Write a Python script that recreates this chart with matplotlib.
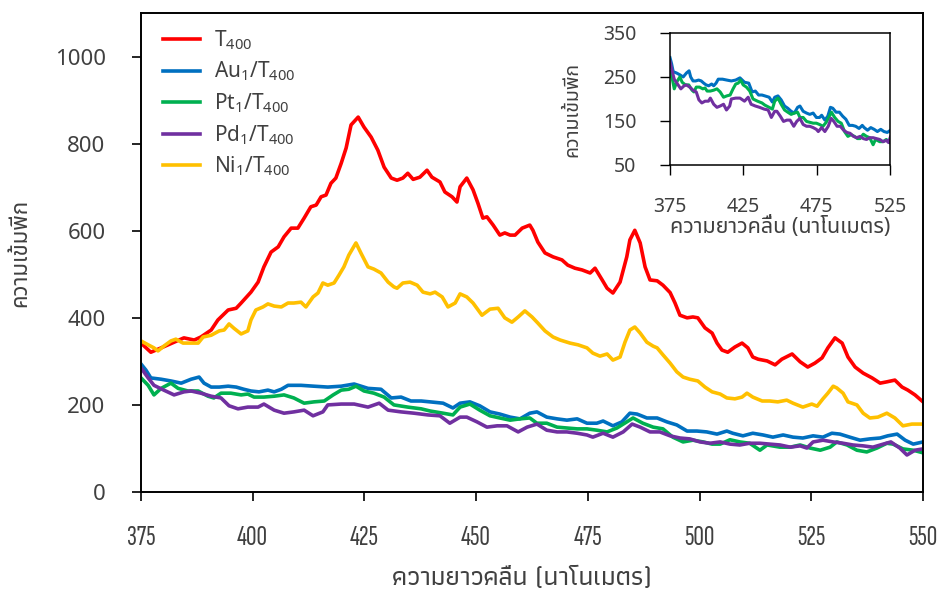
import matplotlib
matplotlib.use("Agg")
import matplotlib.pyplot as plt

# Photoluminescence spectra, T400 and single-atom loaded samples
red_wl = [375.0, 377.2, 379.5, 382.4, 384.6, 386.9, 388.4, 390.7, 392.2, 394.5, 396.3, 397.4,
          399.6, 401.2, 402.5, 404.1, 405.7, 407.0, 408.6, 410.1, 411.5, 413.0, 414.2, 415.3,
          416.4, 417.5, 418.6, 419.8, 420.9, 422.0, 423.6, 424.9, 426.5, 428.0, 429.4, 431.0,
          432.3, 433.6, 434.7, 435.9, 437.4, 439.0, 440.1, 441.9, 443.0, 444.6, 445.7, 446.4,
          447.9, 449.3, 450.4, 451.5, 452.4, 453.8, 455.3, 456.4, 457.6, 458.7, 460.3, 462.0,
          462.7, 463.8, 465.4, 467.2, 469.2, 470.5, 472.1, 473.7, 475.5, 476.6, 478.2, 479.3,
          480.6, 482.2, 483.7, 484.4, 485.5, 486.7, 487.8, 488.9, 490.5, 491.8, 493.4, 494.5,
          495.6, 497.2, 498.5, 499.6, 501.2, 502.8, 503.9, 505.0, 506.3, 507.9, 509.5, 510.8,
          511.9, 513.1, 515.1, 516.9, 518.4, 520.7, 522.5, 524.2, 525.8, 527.4, 528.7, 530.3,
          531.9, 533.2, 534.8, 536.6, 538.6, 540.4, 541.9, 543.7, 545.3, 546.6, 548.2, 550.0]
red_i = [342, 321, 331, 344, 354, 349, 356, 372, 395, 418, 422, 434,
         459, 482, 517, 551, 563, 586, 606, 606, 629, 655, 659, 678,
         682, 709, 721, 755, 790, 843, 861, 838, 815, 785, 746, 721,
         716, 721, 732, 718, 723, 739, 723, 712, 689, 678, 666, 701,
         721, 694, 663, 629, 632, 613, 590, 595, 590, 590, 606, 613,
         601, 574, 549, 540, 533, 521, 514, 510, 503, 514, 487, 468,
         457, 482, 540, 579, 601, 572, 517, 487, 485, 475, 458, 434,
         406, 400, 402, 400, 377, 365, 342, 326, 321, 333, 342, 331,
         310, 305, 301, 292, 305, 317, 299, 287, 296, 308, 331, 354,
         342, 310, 287, 273, 262, 250, 253, 257, 241, 234, 223, 207]

ni_wl = [375.0, 376.6, 377.9, 378.8, 380.1, 381.7, 382.8, 384.4, 386.2, 387.8, 388.9, 390.7,
         392.5, 393.6, 394.7, 395.8, 397.4, 398.9, 399.6, 400.7, 402.3, 403.4, 404.8, 406.4,
         407.9, 409.2, 410.8, 411.9, 413.5, 414.6, 415.7, 416.8, 418.2, 419.3, 420.4, 421.5,
         423.1, 424.2, 425.8, 427.1, 428.7, 430.3, 431.6, 432.3, 433.6, 435.2, 436.8, 438.1,
         439.7, 440.8, 442.4, 443.7, 445.3, 446.4, 447.9, 449.3, 451.3, 453.1, 454.9, 456.4,
         458.0, 459.4, 460.9, 462.5, 463.8, 465.4, 467.2, 468.8, 471.0, 472.8, 474.8, 476.1,
         477.7, 479.3, 480.6, 482.2, 483.3, 484.4, 485.5, 486.7, 488.2, 489.6, 490.5, 491.8,
         493.4, 494.9, 496.3, 497.8, 499.6, 501.2, 502.8, 504.6, 506.1, 507.9, 509.5, 510.6,
         511.9, 514.0, 515.7, 517.5, 519.5, 520.9, 523.1, 525.1, 526.3, 527.6, 528.7, 529.9,
         530.7, 532.1, 533.2, 535.2, 536.6, 538.1, 539.9, 541.9, 543.7, 545.5, 547.5, 550.0]
ni_i = [347, 338, 331, 324, 335, 347, 351, 342, 342, 342, 356, 360,
        370, 372, 386, 376, 363, 370, 395, 418, 425, 432, 427, 425,
        434, 434, 436, 425, 448, 457, 480, 475, 480, 498, 517, 544,
        572, 549, 517, 512, 503, 482, 471, 468, 480, 482, 475, 459,
        455, 459, 448, 425, 434, 455, 448, 434, 406, 420, 422, 400,
        390, 402, 416, 402, 388, 370, 356, 349, 342, 338, 331, 319,
        312, 317, 303, 310, 344, 372, 379, 365, 344, 335, 331, 315,
        296, 276, 264, 259, 255, 241, 230, 225, 216, 214, 218, 227,
        218, 209, 209, 207, 211, 204, 195, 202, 197, 214, 227, 243,
        239, 227, 207, 200, 181, 170, 172, 181, 170, 152, 156, 156]

au_wl = [375.0, 376.1, 377.2, 379.5, 381.7, 384.0, 386.2, 388.0, 389.1, 390.7, 392.5, 394.5,
         396.3, 398.0, 399.6, 401.4, 403.4, 404.8, 406.4, 407.9, 410.8, 413.7, 416.8, 419.8,
         422.7, 425.8, 428.7, 431.0, 433.2, 435.4, 437.7, 439.7, 442.6, 444.8, 446.4, 448.6,
         450.8, 453.1, 455.3, 457.6, 459.8, 462.0, 463.6, 465.8, 468.1, 470.3, 472.6, 474.8,
         477.0, 478.4, 480.6, 482.6, 484.4, 486.0, 488.2, 490.5, 492.7, 494.9, 497.2, 499.4,
         501.6, 503.9, 506.1, 507.4, 509.7, 511.9, 514.2, 516.4, 518.7, 520.9, 523.1, 525.4,
         527.6, 529.6, 531.4, 533.6, 535.9, 538.1, 540.4, 542.1, 544.2, 546.0, 547.8, 550.0]
au_i = [294, 280, 262, 259, 255, 250, 259, 264, 250, 241, 241, 243,
        241, 236, 232, 230, 234, 230, 236, 245, 245, 243, 241, 243,
        248, 238, 236, 216, 218, 209, 209, 207, 204, 193, 204, 207,
        198, 184, 179, 172, 168, 181, 184, 172, 168, 165, 168, 158,
        158, 163, 152, 161, 181, 179, 170, 170, 161, 154, 140, 140,
        138, 133, 140, 135, 129, 135, 131, 126, 131, 126, 124, 129,
        126, 135, 133, 126, 119, 122, 124, 129, 133, 119, 110, 115]

pt_wl = [375.0, 376.6, 377.9, 379.5, 381.7, 383.3, 385.5, 387.8, 390.0, 391.3, 392.9, 395.1,
         397.4, 398.9, 400.3, 402.5, 404.8, 407.0, 409.2, 411.5, 413.7, 416.0, 418.0, 419.8,
         421.5, 423.1, 424.9, 427.1, 429.4, 431.6, 434.7, 437.7, 439.7, 442.6, 444.8, 446.4,
         448.6, 450.8, 453.1, 455.3, 457.6, 459.8, 462.0, 463.6, 465.8, 468.1, 470.3, 472.6,
         474.8, 477.0, 479.3, 481.5, 483.7, 485.1, 487.3, 489.6, 491.8, 494.0, 496.3, 498.5,
         500.8, 502.8, 504.6, 506.8, 509.0, 511.2, 513.5, 515.1, 518.0, 520.3, 522.5, 524.7,
         527.0, 529.2, 530.7, 533.0, 535.2, 537.4, 539.7, 541.9, 543.3, 545.5, 547.8, 550.0]
pt_i = [262, 245, 223, 238, 250, 238, 232, 232, 220, 216, 227, 227,
        223, 225, 218, 218, 220, 223, 216, 204, 207, 209, 223, 234,
        236, 243, 232, 227, 218, 200, 195, 191, 186, 181, 177, 195,
        202, 188, 175, 170, 165, 168, 170, 158, 158, 149, 147, 145,
        145, 142, 138, 147, 161, 170, 158, 149, 145, 126, 115, 119,
        115, 110, 110, 120, 115, 112, 96, 108, 103, 103, 108, 101,
        96, 103, 115, 108, 96, 92, 101, 112, 110, 99, 96, 90]

pd_wl = [375.0, 376.6, 377.9, 380.1, 382.4, 384.6, 386.2, 388.4, 390.7, 392.9, 394.7, 396.7,
         398.9, 401.2, 402.5, 404.8, 407.0, 409.2, 411.5, 413.5, 415.7, 416.8, 419.8, 422.7,
         425.8, 428.3, 430.3, 433.2, 436.1, 439.2, 441.9, 444.1, 446.4, 447.9, 450.2, 452.4,
         454.7, 456.9, 459.4, 461.4, 463.6, 465.8, 468.1, 470.3, 472.6, 474.8, 476.1, 478.4,
         480.6, 482.9, 484.9, 486.7, 488.9, 491.1, 493.4, 495.6, 497.8, 500.1, 502.3, 504.6,
         506.8, 509.0, 511.2, 513.5, 515.7, 518.0, 520.3, 522.5, 524.0, 525.4, 527.6, 529.9,
         532.1, 534.3, 536.6, 538.8, 541.1, 542.8, 544.8, 546.4, 548.2, 550.0]
pd_i = [285, 262, 245, 234, 223, 230, 232, 227, 220, 216, 198, 191,
        195, 195, 202, 188, 181, 184, 188, 175, 184, 200, 202, 202,
        195, 204, 188, 184, 181, 177, 175, 158, 172, 172, 161, 149,
        152, 152, 138, 149, 156, 142, 138, 138, 135, 131, 126, 135,
        126, 138, 156, 149, 138, 138, 129, 124, 122, 115, 112, 115,
        110, 108, 112, 112, 110, 108, 103, 106, 101, 115, 119, 115,
        112, 108, 106, 103, 110, 115, 101, 85, 96, 99]

labels = ["T$_\\mathregular{400}$",
          "Au$_\\mathregular{1}$/T$_\\mathregular{400}$",
          "Pt$_\\mathregular{1}$/T$_\\mathregular{400}$",
          "Pd$_\\mathregular{1}$/T$_\\mathregular{400}$",
          "Ni$_\\mathregular{1}$/T$_\\mathregular{400}$"]
colors = ["#FF0000", "#0070C0", "#00B050", "#7030A0", "#FFC000"]

thai = ["Noto Sans Thai", "DejaVu Sans"]
narrow = ["Sofia Sans Extra Condensed", "Saira Extra Condensed", "Pathway Gothic One", "Noto Sans Thai"]
narrow_thai = ["Athiti", "Noto Sans Thai"]
txt = "#404040"

plt.rcParams["font.family"] = thai

fig = plt.figure(figsize=(9.47, 5.92), dpi=100)
ax = fig.add_axes([0.1489, 0.1689, 0.8258, 0.8091])

series = [(red_wl, red_i), (au_wl, au_i), (pt_wl, pt_i), (pd_wl, pd_i), (ni_wl, ni_i)]
for (wl, inten), c, lab in zip(series, colors, labels):
    ax.plot(wl, inten, color=c, lw=2.6, label=lab, solid_joinstyle="round")

ax.set_xlim(375, 550)
ax.set_ylim(0, 1100)
ax.set_xticks(range(375, 551, 25))
ax.set_yticks(range(0, 1001, 200))
for s in ax.spines.values():
    s.set_linewidth(1.4)
ax.tick_params(axis="both", direction="out", length=6.5, width=1.2)
ax.tick_params(axis="y", labelsize=16, pad=19, labelcolor=txt)
ax.tick_params(axis="x", labelsize=21, pad=18, labelcolor=txt)
for t in ax.get_xticklabels():
    t.set_family(narrow)

ax.set_xlabel("ความยาวคลื่น (นาโนเมตร)", fontsize=19, color=txt, family=narrow_thai,
              fontweight="medium")
ax.set_ylabel("ความเข้มพีก", fontsize=16, color=txt)
ax.xaxis.set_label_coords(0.487, -0.155)
ax.yaxis.set_label_coords(-0.14, 0.5)

ax.legend(loc="upper left", bbox_to_anchor=(0.015, 0.99), frameon=False, borderpad=0,
          handlelength=1.75, handletextpad=0.7, labelspacing=0.385,
          prop={"family": thai, "size": 15}, labelcolor=txt)

# inset: the three low-intensity spectra
axi = fig.add_axes([0.7075, 0.7213, 0.2323, 0.2230])
for (wl, inten), c in zip(series[1:4], colors[1:4]):
    axi.plot(wl, inten, color=c, lw=2.2, solid_joinstyle="round")
axi.set_xlim(375, 525)
axi.set_ylim(50, 350)
axi.set_xticks([375, 425, 475, 525])
axi.set_yticks([50, 150, 250, 350])
for s in axi.spines.values():
    s.set_linewidth(1.1)
axi.tick_params(axis="both", direction="out", length=7, width=1.0, labelsize=14,
                labelcolor=txt)
axi.tick_params(axis="y", pad=17)
axi.tick_params(axis="x", pad=16)
axi.set_xlabel("ความยาวคลื่น (นาโนเมตร)", fontsize=15.5, color=txt)
axi.set_ylabel("ความเข้มพีก", fontsize=14, color=txt)
axi.xaxis.set_label_coords(0.5, -0.39)
axi.yaxis.set_label_coords(-0.40, 0.42)

fig.savefig("out.png", dpi=100)
